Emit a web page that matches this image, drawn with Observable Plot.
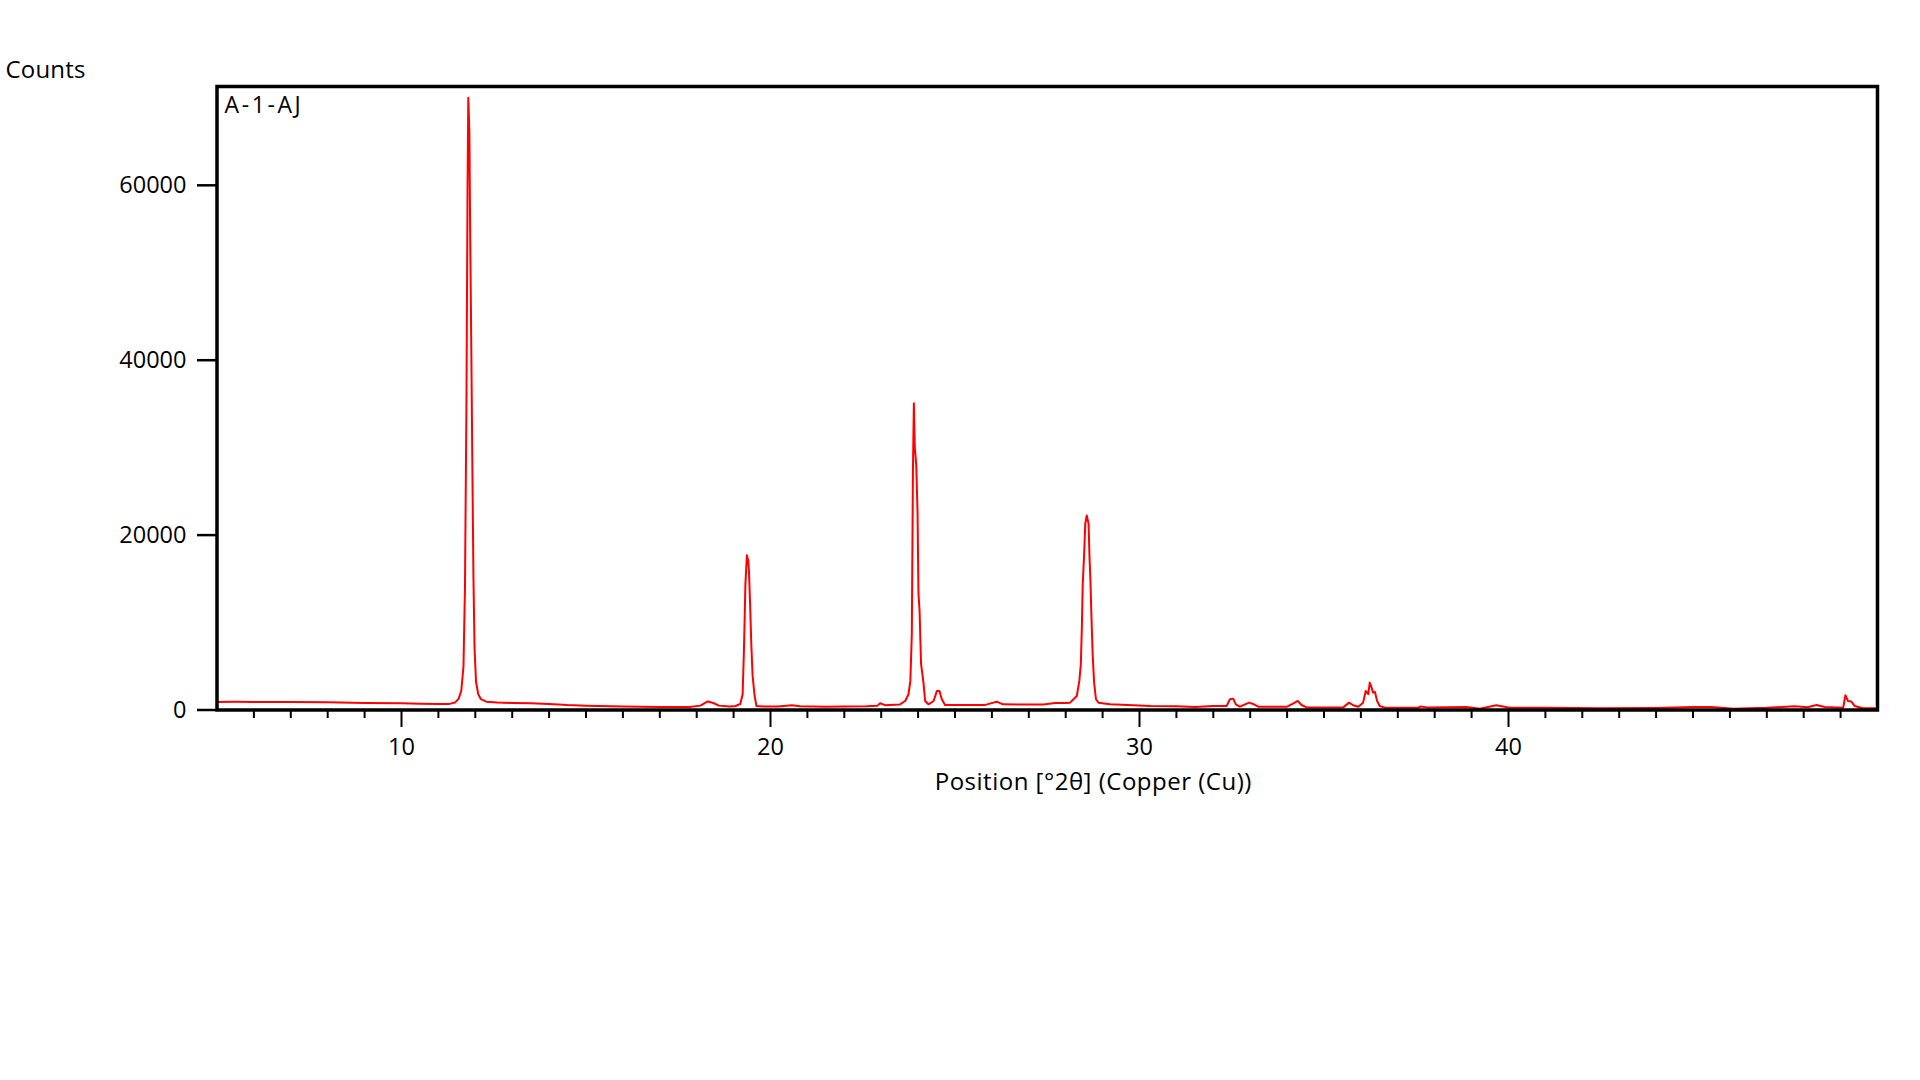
<!DOCTYPE html>
<html>
<head>
<meta charset="utf-8">
<script src="https://cdn.jsdelivr.net/npm/d3@7"></script>
<script src="https://cdn.jsdelivr.net/npm/@observablehq/plot@0.6"></script>
<style>
  html, body { margin: 0; padding: 0; background: #fff; }
  #chart svg { display: block; }
</style>
</head>
<body>
<div id="chart"></div>
<script>
// Diffraction pattern: position (°2θ) and counts
const twoTheta = [
  5.0, 5.5, 6.0, 7.0, 8.0, 9.0, 10.0, 10.5, 11.0, 11.3,
  11.45, 11.55, 11.62, 11.68, 11.72, 11.76, 11.79, 11.81, 11.84, 11.86,
  11.89, 11.92, 11.95, 11.98, 12.02, 12.08, 12.15, 12.3, 12.6, 13.0,
  13.5, 14.0, 14.5, 15.0, 16.0, 17.0, 17.8, 18.1, 18.3, 18.45,
  18.6, 18.9, 19.05, 19.18, 19.245, 19.28, 19.32, 19.36, 19.40, 19.42,
  19.45, 19.48, 19.515, 19.57, 19.62, 19.8, 20.2, 20.58, 20.8, 21.5,
  22.0, 22.6, 22.9, 22.97, 23.1, 23.5, 23.65, 23.74, 23.79, 23.83,
  23.86, 23.885, 23.91, 23.95, 23.985, 24.01, 24.04, 24.08, 24.15, 24.19,
  24.28, 24.42, 24.51, 24.58, 24.64, 24.73, 25.2, 25.8, 26.04, 26.13,
  26.3, 26.8, 27.4, 27.71, 28.0, 28.12, 28.30, 28.37, 28.41, 28.44,
  28.46, 28.50, 28.53, 28.57, 28.62, 28.645, 28.67, 28.70, 28.73, 28.77,
  28.82, 28.89, 29.2, 30.3, 31.0, 31.5, 32.0, 32.36, 32.45, 32.54,
  32.61, 32.72, 32.86, 32.97, 33.10, 33.22, 34.0, 34.16, 34.29, 34.39,
  34.53, 35.52, 35.68, 35.79, 35.93, 36.06, 36.13, 36.20, 36.24, 36.29,
  36.33, 36.38, 36.44, 36.51, 36.65, 37.55, 37.61, 37.8, 38.86, 39.22,
  39.67, 40.03, 41.0, 42.47, 44.0, 45.0, 45.5, 46.08, 47.0, 47.76,
  48.1, 48.35, 48.57, 49.07, 49.13, 49.20, 49.29, 49.38, 49.60, 49.87,
  50.0
];
const counts = [
  920, 930, 910, 920, 880, 800, 760, 720, 690, 700,
  850, 1300, 2200, 5000, 14000, 35000, 60000, 70000, 66000, 55000,
  42000, 28000, 15000, 7000, 3200, 1800, 1250, 950, 860, 800,
  760, 700, 560, 490, 400, 330, 330, 500, 980, 800,
  500, 400, 460, 690, 1800, 6770, 14400, 17700, 17000, 15500,
  11700, 7500, 3900, 1600, 460, 400, 400, 540, 420, 380,
  400, 420, 500, 770, 550, 620, 1030, 1800, 3330, 8680,
  27400, 35070, 30000, 28000, 22500, 13300, 11360, 5270, 2950, 1030,
  650, 1030, 2180, 2180, 1260, 570, 560, 560, 840, 950,
  650, 620, 620, 800, 800, 840, 1600, 3330, 5240, 9830,
  14200, 17860, 21300, 22250, 21300, 17470, 14800, 10400, 6390, 3130,
  1230, 840, 650, 460, 420, 340, 460, 460, 1230, 1300,
  650, 380, 650, 840, 650, 380, 380, 720, 1030, 570,
  300, 300, 840, 540, 380, 840, 2180, 1800, 3130, 2560,
  1990, 2070, 1030, 460, 260, 260, 400, 300, 340, 150,
  540, 260, 250, 200, 230, 340, 340, 150, 250, 420,
  320, 570, 340, 260, 1690, 1030, 960, 460, 200, 200,
  200
];
const yTicks = [0, 20000, 40000, 60000];
const xMajorTicks = [10, 20, 30, 40];
const xMinorTicks = [6, 7, 8, 9, 11, 12, 13, 14, 15, 16, 17, 18, 19, 21, 22, 23, 24, 25, 26, 27, 28, 29,
  31, 32, 33, 34, 35, 36, 37, 38, 39, 41, 42, 43, 44, 45, 46, 47, 48, 49];
const sampleName = "A-1-AJ";
const yTitle = "Counts";
const xTitle = "Position [°2θ] (Copper (Cu))";

const data = twoTheta.map((x, i) => ({x, y: counts[i]}));
const font = "'Open Sans', 'Noto Sans', sans-serif";

const chart = Plot.plot({
  width: 1920,
  height: 820,
  marginLeft: 216.5,
  marginRight: 43,
  marginTop: 86,
  marginBottom: 110.5,
  style: {fontFamily: font, fontSize: "23.5px", color: "#000", background: "#fff"},
  x: {domain: [5, 50]},
  y: {domain: [0, 71300]},
  marks: [
    Plot.line(data, {x: "x", y: "y", stroke: "#ff0000", strokeWidth: 2}),
    Plot.axisY({ticks: yTicks, tickSize: 19.5, tickPadding: 11, strokeWidth: 2.5, label: null, fontSize: 23.5, tickFormat: d => String(d)}),
    Plot.axisX({ticks: xMinorTicks, tickSize: 8.5, strokeWidth: 2, label: null, tickFormat: () => ""}),
    Plot.axisX({ticks: xMajorTicks, tickSize: 17.5, tickPadding: 11, strokeWidth: 2, label: null, fontSize: 23.5, tickFormat: d => String(d)}),
    Plot.frame({stroke: "#000", strokeWidth: 3.5}),
    Plot.text([sampleName], {frameAnchor: "top-left", text: d => d, textAnchor: "start", lineAnchor: "bottom", dx: 7.5, dy: 26, fontSize: 23, fill: "#000"}),
    Plot.text([yTitle], {frameAnchor: "top-left", text: d => d, textAnchor: "start", lineAnchor: "bottom", dx: -211.5, dy: -9, fontSize: 24, fill: "#000"}),
    Plot.text([xTitle], {frameAnchor: "bottom", text: d => d, textAnchor: "middle", lineAnchor: "bottom", dx: 46, dy: 79.5, fontSize: 24, fill: "#000"})
  ]
});
// letter spacing to match the wider original typeface
const spacing = {[sampleName]: "2.6px", [xTitle]: "0.5px", [yTitle]: "0.2px"};
d3.select(chart).selectAll("text").each(function() {
  const s = spacing[this.textContent];
  if (s) this.style.letterSpacing = s;
});
document.getElementById("chart").appendChild(chart);
</script>
</body>
</html>
